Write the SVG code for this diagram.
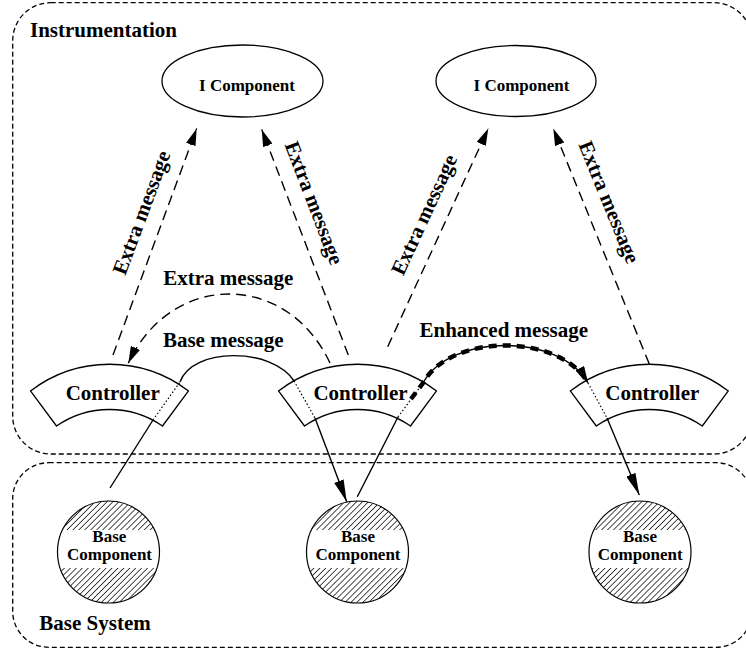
<svg xmlns="http://www.w3.org/2000/svg" width="746" height="651" viewBox="0 0 746 651">
<style>
.t{font-family:"Liberation Serif","Times New Roman",serif;font-weight:bold;fill:#000}
.lbl{font-size:21px}
.sm{font-size:17px}
.box{fill:none;stroke:#000;stroke-width:1.3;stroke-dasharray:5 3}
.shape{fill:#fff;stroke:#000;stroke-width:1.3}
.solid{fill:none;stroke:#000;stroke-width:1.4}
.dash{fill:none;stroke:#000;stroke-width:1.4;stroke-dasharray:10 6}
.dot{fill:none;stroke:#000;stroke-width:1.2;stroke-dasharray:1.5 2.2}
.thick{fill:none;stroke:#000;stroke-width:4.5;stroke-dasharray:8 6}
</style>
<defs>
<pattern id="hatch" patternUnits="userSpaceOnUse" width="4.2" height="4.2" patternTransform="rotate(45)">
<rect width="4.2" height="4.2" fill="#fff"/>
<line x1="2.1" y1="-1" x2="2.1" y2="5.2" stroke="#000" stroke-width="0.7"/>
</pattern>
<marker id="ah" markerUnits="userSpaceOnUse" markerWidth="17" markerHeight="10" refX="17" refY="5" orient="auto"><path d="M0,0 L17,5 L0,10 Z" fill="#000"/></marker>
<marker id="ahb" markerUnits="userSpaceOnUse" markerWidth="22" markerHeight="10" refX="22" refY="5" orient="auto"><path d="M0,0 L22,5 L0,10 Z" fill="#000"/></marker>
</defs>
<rect width="746" height="651" fill="#fff"/>

<g id="instrumentation">
<rect class="box" x="12.7" y="2.7" width="739.3" height="451.3" rx="38" ry="38"/>
<text class="t lbl" x="30" y="37">Instrumentation</text>
</g>
<g id="base-system">
<rect class="box" x="12.7" y="462.7" width="739.3" height="184.6" rx="36" ry="36"/>
<text class="t lbl" x="39.3" y="630">Base System</text>
</g>

<g id="icomp1">
<ellipse class="shape" cx="242.5" cy="81" rx="80.5" ry="36"/>
<text class="t sm" x="247" y="91" text-anchor="middle">I Component</text>
</g>
<g id="icomp2">
<ellipse class="shape" cx="516" cy="81" rx="80" ry="35.5"/>
<text class="t sm" x="521.5" y="91" text-anchor="middle">I Component</text>
</g>

<g id="base1">
<circle cx="108.5" cy="552" r="51" fill="url(#hatch)"/>
<path d="M62.5,530 L154.5,530 A51,51 0 0 1 156.9,568 L60.1,568 A51,51 0 0 1 62.5,530 Z" fill="#fff"/>
<circle cx="108.5" cy="552" r="51" fill="none" stroke="#000" stroke-width="1.2"/>
<text class="t sm" x="109.3" y="542" text-anchor="middle">Base</text>
<text class="t sm" x="109.5" y="560" text-anchor="middle">Component</text>
</g>
<g id="base2">
<circle cx="357.5" cy="552" r="51" fill="url(#hatch)"/>
<path d="M311.5,530 L403.5,530 A51,51 0 0 1 405.9,568 L309.1,568 A51,51 0 0 1 311.5,530 Z" fill="#fff"/>
<circle cx="357.5" cy="552" r="51" fill="none" stroke="#000" stroke-width="1.2"/>
<text class="t sm" x="358" y="542" text-anchor="middle">Base</text>
<text class="t sm" x="358" y="560" text-anchor="middle">Component</text>
</g>
<g id="base3">
<circle cx="640" cy="552" r="51" fill="url(#hatch)"/>
<path d="M594,530 L686,530 A51,51 0 0 1 688.4,568 L591.6,568 A51,51 0 0 1 594,530 Z" fill="#fff"/>
<circle cx="640" cy="552" r="51" fill="none" stroke="#000" stroke-width="1.2"/>
<text class="t sm" x="640" y="542" text-anchor="middle">Base</text>
<text class="t sm" x="640.2" y="560" text-anchor="middle">Component</text>
</g>

<g id="controller1">
<path class="shape" d="M30.5,391 A130,130 0 0 1 188.5,391 L162.5,426 A93.4,93.4 0 0 0 56.5,426 Z"/>
<text class="t lbl" x="112.7" y="400" text-anchor="middle">Controller</text>
</g>
<g id="controller2">
<path class="shape" d="M278.5,391 A130,130 0 0 1 436.5,391 L410.5,426 A93.4,93.4 0 0 0 304.5,426 Z"/>
<text class="t lbl" x="360.5" y="400" text-anchor="middle">Controller</text>
</g>
<g id="controller3">
<path class="shape" d="M570.3,391 A130,130 0 0 1 728.3,391 L702.3,426 A93.4,93.4 0 0 0 596.3,426 Z"/>
<text class="t lbl" x="652.3" y="400" text-anchor="middle">Controller</text>
</g>

<g id="connectors">
<line class="dash" x1="113" y1="355" x2="196.7" y2="128.5" marker-end="url(#ah)"/>
<line class="dash" x1="348.3" y1="355" x2="261.7" y2="129.5" marker-end="url(#ah)"/>
<line class="dash" x1="387.7" y1="346.7" x2="488.3" y2="128.5" marker-end="url(#ah)"/>
<line class="dash" x1="649.3" y1="364" x2="553.3" y2="128.5" marker-end="url(#ah)"/>
<path class="dash" d="M330,363 C287,271 171,271 128.3,363.3" marker-end="url(#ah)"/>
<line class="solid" x1="110" y1="488" x2="153" y2="420"/>
<line class="dot" x1="153" y1="420" x2="180" y2="382"/>
<path class="solid" d="M180,382 C192,347 272,347 294,381"/>
<line class="dot" x1="294" y1="381" x2="315" y2="418"/>
<line class="solid" x1="315" y1="418" x2="346.7" y2="501.7" marker-end="url(#ahb)"/>
<line class="solid" x1="357.3" y1="496.7" x2="398" y2="417"/>
<line class="dot" x1="398" y1="417" x2="423" y2="383"/>
<path class="solid" d="M423,383 C450,333 560,333 588,383"/>
<path class="thick" d="M411,399 L423,383 C450,333 560,333 588,383" marker-end="url(#ah)"/>
<line class="dot" x1="588" y1="383" x2="607" y2="418"/>
<line class="solid" x1="607" y1="418" x2="639.3" y2="495" marker-end="url(#ahb)"/>
</g>

<g id="labels">
<text class="t lbl" x="148" y="215" text-anchor="middle" transform="rotate(-69.6 148 215)">Extra message</text>
<text class="t lbl" x="307.7" y="205.4" text-anchor="middle" transform="rotate(69.1 307.7 205.4)">Extra message</text>
<text class="t lbl" x="430.4" y="217.5" text-anchor="middle" transform="rotate(-65.3 430.4 217.5)">Extra message</text>
<text class="t lbl" x="602.7" y="204.8" text-anchor="middle" transform="rotate(67.8 602.7 204.8)">Extra message</text>
<text class="t lbl" x="228.3" y="284.5" text-anchor="middle">Extra message</text>
<text class="t lbl" x="223.3" y="346.7" text-anchor="middle">Base message</text>
<text class="t lbl" x="503.8" y="336.7" text-anchor="middle">Enhanced message</text>
</g>
</svg>
